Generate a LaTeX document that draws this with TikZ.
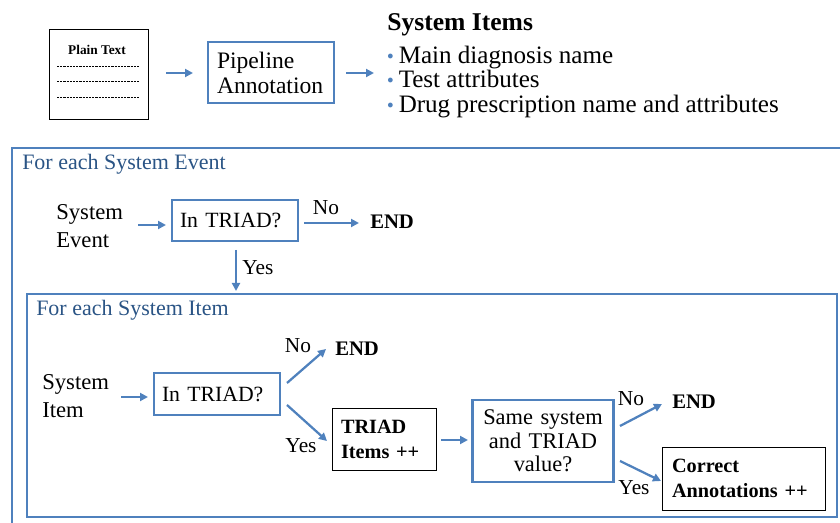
\documentclass[tikz,border=0pt]{standalone}
\usepackage{fontspec}
\setmainfont{Liberation Serif}
\usetikzlibrary{arrows.meta}
\definecolor{accent}{HTML}{4F81BD}
\definecolor{framelabel}{HTML}{2A5485}
\newcommand{\itembullet}{{\color{accent}\fontsize{9pt}{9pt}\selectfont\raisebox{3pt}{$\bullet$}}\hspace{4pt}}
\begin{document}
\begin{tikzpicture}[x=0.75pt,y=-0.75pt,
  txt/.style={font=\fontsize{17pt}{21pt}\selectfont, inner sep=0pt},
  lbl/.style={font=\fontsize{16pt}{19pt}\selectfont, inner sep=0pt},
  frametitle/.style={font=\fontsize{16.5pt}{19pt}\selectfont, text=framelabel, inner sep=0pt, anchor=west},
  endnode/.style={font=\bfseries\fontsize{15.5pt}{18pt}\selectfont, inner sep=0pt, anchor=west},
  bluebox/.style={draw=accent, line width=1.9pt, inner ysep=0pt, inner xsep=6pt, align=left,
    font=\fontsize{16.3pt}{19pt}\selectfont},
  blackbox/.style={draw=black, line width=0.7pt, inner ysep=0pt, inner xsep=6.75pt, align=left,
    font=\bfseries\fontsize{15.2pt}{18.75pt}\selectfont},
  arr/.style={-{Triangle[length=6pt,width=6pt]}, draw=accent, line width=1.7pt},
  frame/.style={draw=accent, line width=1.5pt}
]
\useasboundingbox (0,0) rectangle (840,523);

% top row: input, pipeline, resulting items
\node[draw=black, line width=0.7pt, minimum width=74.25pt, minimum height=67.5pt] (plain) at (98.5,74) {};
\node[font=\bfseries\fontsize{10pt}{12pt}\selectfont, inner sep=0pt] (plainlbl) at (97,50) {Plain Text};
\foreach \y in {66,81,97}
  \draw[line width=0.5pt, dash pattern=on 1.6pt off 0.8pt] (57,\y) -- (139,\y);

\node[bluebox, minimum height=45.75pt, text width=81pt, inner xsep=6.75pt,
  font=\fontsize{17.7pt}{18.75pt}\selectfont] (pipe) at (271,72.5) {Pipeline\\Annotation};

\coordinate (p1s) at (166,73);
\coordinate (p1e) at (193,73);
\draw[arr] (p1s) -- (p1e);
\coordinate (p2s) at (346,73);
\coordinate (p2e) at (374,73);
\draw[arr] (p2s) -- (p2e);

\node[font=\bfseries\fontsize{19.2pt}{22pt}\selectfont, inner sep=0pt, anchor=west] (items) at (387,25) {System Items};
\node[anchor=west, inner sep=0pt, align=left, font=\fontsize{18.8pt}{18.4pt}\selectfont] (list) at (387,82)
  {\itembullet Main diagnosis name\\
   \itembullet Test attributes\\
   \itembullet Drug prescription name and attributes};

% frames
\draw[frame] (12,148) rectangle (860,540);
\draw[frame] (27,294) rectangle (837,517);
\node[frametitle] (evtitle) at (22,164) {For each System Event};
\node[frametitle] (ittitle) at (36,310) {For each System Item};

% per-event check
\node[txt, align=left, anchor=west] (sysev) at (56,226) {System\\Event};
\node[bluebox, minimum height=30.75pt, text width=82.5pt] (tri1) at (235,220.5) {In TRIAD?};
\node[endnode] (end1) at (370,222) {END};

% per-item check
\node[txt, align=left, anchor=west] (sysit) at (42,396) {System\\Item};
\node[bluebox, minimum height=31.5pt, text width=82.5pt] (tri2) at (217,394) {In TRIAD?};
\node[endnode] (end2) at (335,349) {END};
\node[blackbox, minimum height=46.5pt, text width=64.5pt] (cnt) at (384,439) {TRIAD\\Items ++};
\node[bluebox, minimum height=61.5pt, text width=94pt, align=center,
  font=\fontsize{16.8pt}{17.6pt}\selectfont] (same) at (543,441) {Same system\\and TRIAD\\value?};
\node[endnode] (end3) at (672,402) {END};
\node[blackbox, minimum height=47.25pt, text width=107.25pt, inner xsep=7.5pt] (corr) at (743.5,478.5) {Correct\\Annotations ++};

% connectors
\coordinate (e1s) at (138,225);
\coordinate (e1e) at (166,225);
\draw[arr] (e1s) -- (e1e);
\coordinate (n1s) at (304,223);
\coordinate (n1e) at (359,223);
\draw[arr] (n1s) -- (n1e);
\node[lbl] (no1) at (326,208) {No};
\coordinate (y1s) at (236,250);
\coordinate (y1e) at (236,291);
\draw[arr] (y1s) -- (y1e);
\node[lbl] (yes1) at (258,268) {Yes};

\coordinate (i1s) at (121,397);
\coordinate (i1e) at (148,397);
\draw[arr] (i1s) -- (i1e);
\coordinate (n2s) at (287,383);
\coordinate (n2e) at (326,349);
\draw[arr] (n2s) -- (n2e);
\node[lbl] (no2) at (298,346) {No};
\coordinate (y2s) at (287,405);
\coordinate (y2e) at (327,441);
\draw[arr] (y2s) -- (y2e);
\node[lbl] (yes2) at (301,446) {Yes};

\coordinate (c1s) at (441,440);
\coordinate (c1e) at (468,440);
\draw[arr] (c1s) -- (c1e);
\coordinate (n3s) at (620,426);
\coordinate (n3e) at (662,404);
\draw[arr] (n3s) -- (n3e);
\node[lbl] (no3) at (631,399) {No};
\coordinate (y3s) at (620,461);
\coordinate (y3e) at (661,481);
\draw[arr] (y3s) -- (y3e);
\node[lbl] (yes3) at (634,488) {Yes};
\end{tikzpicture}
\end{document}
